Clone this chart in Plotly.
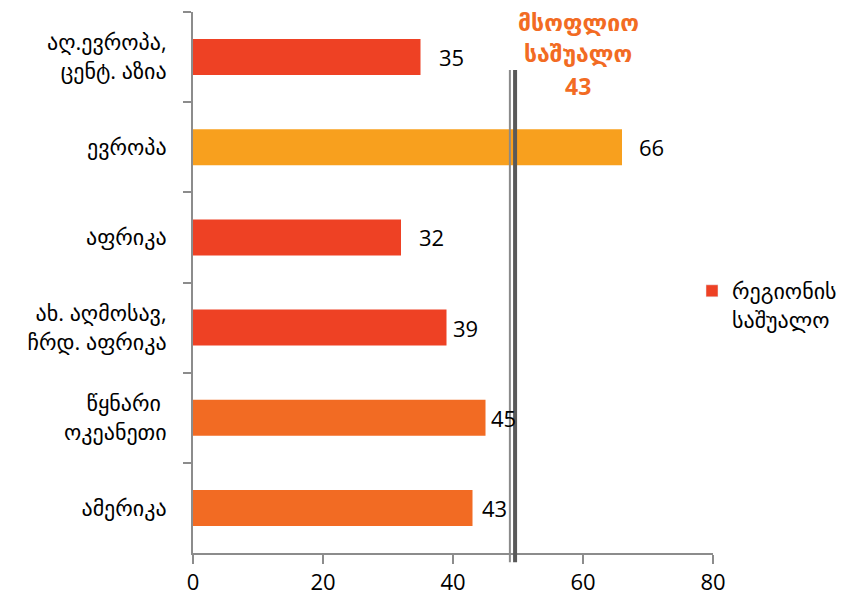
import plotly.graph_objects as go

categories = ["აღ.ევროპა,<br>ცენტ. აზია", "ევროპა", "აფრიკა",
              "ახ. აღმოსავ,<br>ჩრდ. აფრიკა", "წყნარი <br>ოკეანეთი", "ამერიკა"]
values = [35, 66, 32, 39, 45, 43]
bar_colors = ["#EE4124", "#F8A01E", "#EE4124", "#EE4124", "#F26B23", "#F26B23"]
legend_name = "რეგიონის<br>საშუალო"
world_title_lines = ["მსოფლიო", "საშუალო", "43"]
world_line_pos = 49.2
x_ticks = [0, 20, 40, 60, 80]

FONT = "Open Sans, DejaVu Sans, sans-serif"
L, R, T, B = 193, 713, 12, 553
W, H = R - L, B - T
label_shift = [16, 15, 16, 4, 3, 7]

fig = go.Figure()
fig.add_trace(go.Bar(
    y=categories, x=values, orientation="h",
    marker=dict(color=bar_colors, line=dict(width=0)),
    showlegend=False, hoverinfo="skip",
))
fig.add_trace(go.Bar(
    y=[categories[0]], x=[None], orientation="h",
    marker=dict(color=bar_colors[0]), name=legend_name, showlegend=True,
))

for c, v, s in zip(categories, values, label_shift):
    fig.add_annotation(x=v, y=c, text=str(v), showarrow=False, xanchor="left",
                       xshift=s, font=dict(family=FONT, size=22, color="#000000"))

# world average double line
fig.add_shape(type="line", xref="x", yref="paper", x0=world_line_pos - 0.45, x1=world_line_pos - 0.45,
              y0=-0.017, y1=(B - 70) / H, line=dict(color="#8a8a8a", width=2), layer="above")
fig.add_shape(type="line", xref="x", yref="paper", x0=world_line_pos + 0.35, x1=world_line_pos + 0.35,
              y0=-0.017, y1=(B - 70) / H, line=dict(color="#595959", width=4), layer="above")

title_y = [22, 53, 86]
for txt, py in zip(world_title_lines, title_y):
    fig.add_annotation(x=(578 - L) / W, y=(B - py) / H, xref="paper", yref="paper",
                       text="<b>%s</b>" % txt, xanchor="center", yanchor="middle",
                       showarrow=False, font=dict(family=FONT, size=23, color="#F26B23"))

fig.update_layout(
    width=861, height=598,
    margin=dict(l=L, r=861 - R, t=T, b=598 - B),
    plot_bgcolor="white", paper_bgcolor="white",
    bargap=0.6, barmode="overlay",
    font=dict(family=FONT, size=22, color="#000000"),
    xaxis=dict(range=[0, 80], tickvals=x_ticks, showgrid=False, zeroline=False,
               showline=True, linecolor="#8c8c8c", linewidth=2,
               ticks="outside", ticklen=9, tickcolor="#8c8c8c", tickwidth=2,
               tickfont=dict(size=22), automargin=False, fixedrange=True),
    yaxis=dict(autorange="reversed", showgrid=False, zeroline=False,
               showline=True, linecolor="#8c8c8c", linewidth=2,
               ticks="outside", ticklen=8, tickcolor="#8c8c8c", tickwidth=2,
               tickson="boundaries", ticklabelstandoff=20, automargin=False,
               tickfont=dict(size=22)),
    legend=dict(x=(692 - L) / W, y=(B - 270) / H, xanchor="left", yanchor="top",
                valign="top", font=dict(size=22), bgcolor="rgba(0,0,0,0)",
                itemwidth=30),
)

fig.write_html("out.html", config={"displayModeBar": False},
               post_script="document.body.style.margin='0';document.body.style.padding='0';")
